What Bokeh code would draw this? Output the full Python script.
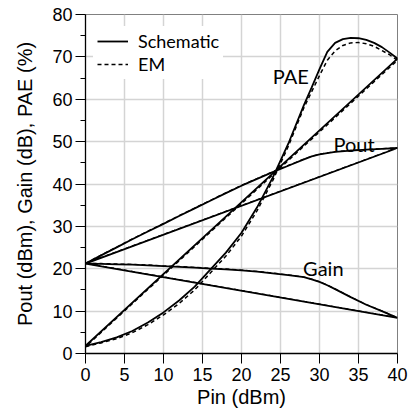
from bokeh.plotting import figure
from bokeh.models import Legend, LegendItem, FixedTicker, Range1d, Label
from bokeh.embed import file_html
from bokeh.resources import INLINE

# ---- data ----
pin_g = [0, 2, 4, 6, 8, 10, 12, 14, 16, 18, 20, 22, 24, 26, 28, 29, 30, 31, 32, 34, 36, 38, 40]
gain_sch = [21.2, 21.15, 21.05, 20.95, 20.8, 20.6, 20.45, 20.25, 20.05, 19.85, 19.6,
            19.3, 18.9, 18.5, 18.0, 17.5, 16.9, 16.1, 15.2, 13.3, 11.5, 10.0, 8.4]
gain_em = [21.3, 21.25, 21.15, 21.05, 20.9, 20.7, 20.55, 20.35, 20.15, 19.95, 19.7,
           19.4, 19.0, 18.55, 18.05, 17.55, 16.95, 16.15, 15.25, 13.35, 11.55, 10.05, 8.45]
pout_sch = [21.2, 23.15, 25.05, 26.95, 28.8, 30.6, 32.45, 34.25, 36.05, 37.85, 39.6,
            41.2, 42.8, 44.3, 45.8, 46.5, 47.0, 47.3, 47.6, 47.9, 48.1, 48.3, 48.5]
pout_em = [21.3, 23.25, 25.15, 27.05, 28.9, 30.7, 32.55, 34.35, 36.15, 37.95, 39.7,
           41.3, 42.9, 44.4, 45.9, 46.55, 47.05, 47.35, 47.65, 47.95, 48.15, 48.35, 48.55]

pin_p = [0, 2, 4, 6, 8, 10, 12, 14, 16, 18, 20, 22, 24, 26, 28, 29, 30, 31, 32, 33, 34,
         35, 36, 37, 38, 39, 40]
pae_sch = [1.8, 2.7, 3.8, 5.3, 7.3, 9.7, 12.5, 15.8, 19.8, 23.8, 28.5, 34.5, 41.5,
           49.5, 58.6, 62.8, 67.1, 71.2, 73.3, 74.2, 74.5, 74.4, 74.0, 73.3, 72.3, 71.0, 69.6]
pae_em = [1.6, 2.5, 3.5, 4.9, 6.8, 9.1, 11.8, 15.0, 19.0, 23.0, 27.7, 33.7, 40.8,
          48.9, 58.0, 61.8, 65.6, 69.2, 71.4, 72.7, 73.3, 73.4, 73.1, 72.5, 71.5, 70.5, 69.2]

x_ticks = [0, 5, 10, 15, 20, 25, 30, 35, 40]
y_ticks = [0, 10, 20, 30, 40, 50, 60, 70, 80]
y_minor = [5, 15, 25, 35, 45, 55, 65, 75]

curve_labels = ["PAE", "Pout", "Gain"]
label_x = [24.0, 31.8, 27.9]
label_y = [65.6, 49.5, 20.2]


def closed(xs, ys):
    return list(xs) + [xs[0]], list(ys) + [ys[0]]


AX_FONT = "Liberation Sans, Arial, sans-serif"

p = figure(width=408, height=412, output_backend="svg", toolbar_location=None,
           x_range=Range1d(0, 40), y_range=Range1d(0, 80),
           min_border_left=85, min_border_right=11, min_border_top=14, min_border_bottom=59)

p.background_fill_color = "white"
p.border_fill_color = "white"
p.outline_line_color = "#808080"
p.outline_line_width = 1

p.xgrid.grid_line_color = "#d4d4d4"
p.ygrid.grid_line_color = "#d4d4d4"
p.xgrid.grid_line_width = 1.5
p.ygrid.grid_line_width = 1.5

p.xaxis.ticker = FixedTicker(ticks=x_ticks)
p.yaxis.ticker = FixedTicker(ticks=y_ticks, minor_ticks=y_minor)

for ax in (p.xaxis, p.yaxis):
    ax.axis_line_color = "black"
    ax.axis_line_width = 1.3
    ax.major_tick_line_color = "black"
    ax.major_tick_in = 0
    ax.major_tick_out = 10
    ax.major_label_text_font = AX_FONT
    ax.major_label_text_font_size = "18px"
    ax.major_label_text_color = "black"
    ax.axis_label_text_font = AX_FONT
    ax.axis_label_text_font_size = "20px"
    ax.axis_label_text_font_style = "normal"
    ax.axis_label_text_color = "black"

p.xaxis.minor_tick_line_color = None
p.yaxis.minor_tick_line_color = "black"
p.yaxis.minor_tick_in = 0
p.yaxis.minor_tick_out = 5
p.yaxis.major_label_standoff = 3
p.xaxis.major_label_standoff = 4
p.xaxis.axis_label = "Pin (dBm)"
p.yaxis.axis_label = "Pout (dBm), Gain (dB), PAE (%)"
p.xaxis.axis_label_standoff = 2
p.yaxis.axis_label_standoff = 13

lw = 1.8
dash = "4 3"

xs, ys = closed(pin_g, gain_sch)
p.line(xs, ys, line_color="black", line_width=lw)
xs, ys = closed(pin_g, gain_em)
p.line(xs, ys, line_color="black", line_width=1.2, line_dash=dash)

xs, ys = closed(pin_g, pout_sch)
p.line(xs, ys, line_color="black", line_width=lw)
xs, ys = closed(pin_g, pout_em)
p.line(xs, ys, line_color="black", line_width=1.2, line_dash=dash)

xs, ys = closed(pin_p, pae_sch)
r_sch = p.line(xs, ys, line_color="black", line_width=lw)
xs, ys = closed(pin_p, pae_em)
r_em = p.line(xs, ys, line_color="black", line_width=1.5, line_dash=dash)

for t, lx, ly in zip(curve_labels, label_x, label_y):
    p.add_layout(Label(x=lx, y=ly, text=t, text_font="Lato", text_font_size="20px",
                       text_color="black", text_baseline="alphabetic", text_align="left"))

legend = Legend(items=[LegendItem(label="Schematic", renderers=[r_sch]),
                       LegendItem(label="EM", renderers=[r_em])],
                location=(8, 274), orientation="vertical")
legend.label_text_font = "Lato"
legend.label_text_font_size = "18px"
legend.label_text_color = "black"
legend.glyph_width = 31
legend.label_standoff = 10
legend.spacing = 1
legend.padding = 4
legend.margin = 0
legend.border_line_alpha = 0
legend.background_fill_color = "white"
legend.background_fill_alpha = 1
p.add_layout(legend, "center")

open("out.html", "w").write(file_html(p, INLINE))
